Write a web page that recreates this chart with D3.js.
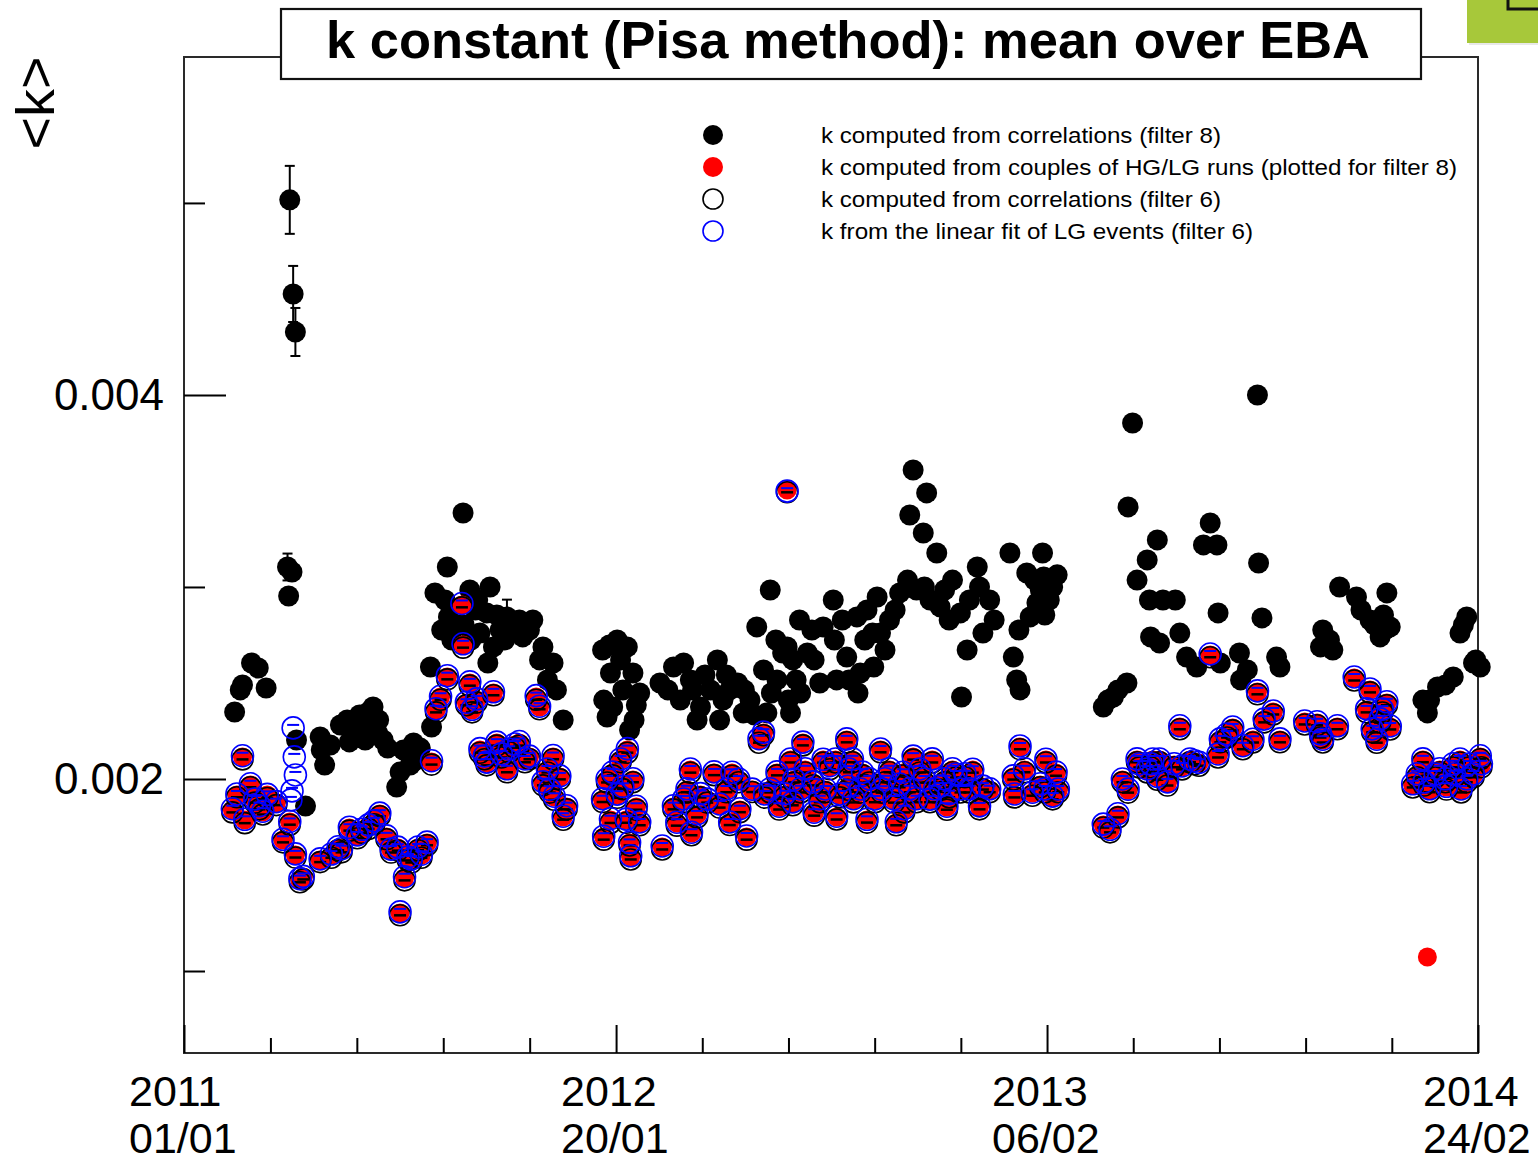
<!DOCTYPE html>
<html>
<head>
<meta charset="utf-8">
<script src="https://cdn.jsdelivr.net/npm/d3@7"></script>
<style>
  body { margin: 0; background: #fff; }
  svg { display: block; }
  text { font-family: "Liberation Sans", Arial, Helvetica, sans-serif; fill: #000; }
</style>
</head>
<body>
<script>
// ---- axis definition -------------------------------------------------------
const axisDates = ["2011-01-01", "2012-01-20", "2013-02-06", "2014-02-24"];
const kRange = [0.000573, 0.00576];
const yMajor = [0.002, 0.004];
const yMinor = [0.001, 0.003, 0.005];

// ---- k from correlations, filter 8: [date, k, error?] ----------------------
const corrF8_2011 = [
  ["2011-02-15",0.002349],["2011-02-20",0.002464],["2011-02-22",0.002490],
  ["2011-03-02",0.002604],["2011-03-08",0.002578],["2011-03-15",0.002474],
  ["2011-04-03",0.003104,0.00007],["2011-04-04",0.002953],["2011-04-05",0.005016,0.000177],
  ["2011-04-07",0.003078],["2011-04-08",0.004526,0.000146],["2011-04-10",0.004328,0.000125],
  ["2011-04-11",0.002203],["2011-04-19",0.001859],["2011-05-02",0.002219],
  ["2011-05-03",0.002151],["2011-05-06",0.002073],["2011-05-11",0.002177],
  ["2011-05-20",0.002281],["2011-05-26",0.002307],["2011-05-28",0.002193],
  ["2011-06-02",0.002245],["2011-06-06",0.002333],["2011-06-11",0.002203],
  ["2011-06-14",0.002349],["2011-06-17",0.002281],["2011-06-18",0.002375],
  ["2011-06-22",0.002240],["2011-06-23",0.002307],["2011-06-27",0.002203],
  ["2011-07-01",0.002161],["2011-07-09",0.001958],["2011-07-12",0.002036],
  ["2011-07-15",0.002151],["2011-07-21",0.002073],["2011-07-24",0.002188],
  ["2011-07-25",0.002094],["2011-07-30",0.002161],["2011-08-08",0.002583],
  ["2011-08-09",0.002271],["2011-08-12",0.002969],["2011-08-18",0.002776],
  ["2011-08-21",0.002932],["2011-08-23",0.003104],["2011-08-24",0.002844],
  ["2011-08-27",0.002724],["2011-09-02",0.002802],["2011-09-06",0.003385],
  ["2011-09-07",0.002802],["2011-09-12",0.002984],["2011-09-13",0.002724],
  ["2011-09-17",0.002880],["2011-09-19",0.002932],["2011-09-21",0.002760],
  ["2011-09-27",0.002865],["2011-09-28",0.002604],["2011-09-30",0.003000],
  ["2011-10-03",0.002688],["2011-10-06",0.002854],["2011-10-09",0.002776],
  ["2011-10-13",0.002724],["2011-10-15",0.002844,0.00009],["2011-10-22",0.002802],
  ["2011-10-26",0.002828],["2011-10-29",0.002740],["2011-11-04",0.002776],
  ["2011-11-07",0.002828],["2011-11-13",0.002620],["2011-11-16",0.002688],
  ["2011-11-20",0.002516],["2011-11-25",0.002604],["2011-11-28",0.002464],
  ["2011-12-04",0.002307]
];
const corrF8_2012 = [
  ["2012-01-08",0.002672],["2012-01-09",0.002411],["2012-01-12",0.002323],
  ["2012-01-14",0.002698],["2012-01-15",0.002552],["2012-01-17",0.002375],
  ["2012-01-21",0.002724],["2012-01-24",0.002620],["2012-01-26",0.002464],
  ["2012-01-30",0.002688],["2012-02-01",0.002255],["2012-02-04",0.002552],
  ["2012-02-05",0.002307],["2012-02-07",0.002385],["2012-02-10",0.002448],
  ["2012-02-28",0.002500],["2012-03-06",0.002464],["2012-03-11",0.002583],
  ["2012-03-17",0.002411],["2012-03-20",0.002604],["2012-03-26",0.002516],
  ["2012-03-28",0.002464],["2012-04-01",0.002307],["2012-04-04",0.002375],
  ["2012-04-08",0.002542],["2012-04-13",0.002464],["2012-04-19",0.002620],
  ["2012-04-21",0.002307],["2012-04-24",0.002411],["2012-04-27",0.002542],
  ["2012-04-30",0.002464],["2012-05-07",0.002500],["2012-05-12",0.002344],
  ["2012-05-13",0.002464],["2012-05-18",0.002411],["2012-05-22",0.002333],
  ["2012-05-24",0.002792],["2012-05-30",0.002568],["2012-06-02",0.002344],
  ["2012-06-05",0.002984],["2012-06-06",0.002448],["2012-06-10",0.002724],
  ["2012-06-11",0.002516],["2012-06-16",0.002656],["2012-06-20",0.002688],
  ["2012-06-21",0.002411],["2012-06-23",0.002344],["2012-06-25",0.002620],
  ["2012-06-28",0.002516],["2012-07-01",0.002828],["2012-07-02",0.002448],
  ["2012-07-08",0.002656],["2012-07-12",0.002776],["2012-07-14",0.002620],
  ["2012-07-19",0.002500],["2012-07-22",0.002792],["2012-07-31",0.002932],
  ["2012-08-01",0.002724],["2012-08-03",0.002516],["2012-08-08",0.002828],
  ["2012-08-12",0.002635],["2012-08-14",0.002516],["2012-08-21",0.002844],
  ["2012-08-22",0.002448],["2012-08-24",0.002552],["2012-08-28",0.002724],
  ["2012-08-30",0.002880],["2012-09-04",0.002760],["2012-09-05",0.002583],
  ["2012-09-08",0.002948],["2012-09-11",0.002760],["2012-09-15",0.002672],
  ["2012-09-19",0.002828],["2012-09-24",0.002880],["2012-09-28",0.002969],
  ["2012-10-05",0.003036],["2012-10-07",0.003375],["2012-10-10",0.003609],
  ["2012-10-13",0.002984],["2012-10-19",0.003281],["2012-10-20",0.003000],
  ["2012-10-22",0.003490],["2012-10-25",0.002932],["2012-10-31",0.003177],
  ["2012-11-03",0.002896],["2012-11-07",0.002984],["2012-11-11",0.002828],
  ["2012-11-14",0.003036],["2012-11-21",0.002865],["2012-11-22",0.002427],
  ["2012-11-27",0.002672],["2012-11-29",0.002932],["2012-12-06",0.003104],
  ["2012-12-08",0.003000],["2012-12-11",0.002760],["2012-12-17",0.002932],
  ["2012-12-21",0.002828]
];
const corrF8_2013 = [
  ["2013-01-04",0.003177],["2013-01-07",0.002635],["2013-01-10",0.002516],
  ["2013-01-12",0.002776],["2013-01-13",0.002464],["2013-01-19",0.003073],
  ["2013-01-22",0.002844],["2013-01-26",0.003036],["2013-01-28",0.002917],
  ["2013-01-31",0.002984],["2013-02-02",0.003177],["2013-02-03",0.003052],
  ["2013-02-04",0.002854],["2013-02-07",0.003036],["2013-02-08",0.002932],
  ["2013-02-11",0.003000],["2013-02-15",0.003063],["2013-03-28",0.002375],
  ["2013-04-01",0.002411],["2013-04-06",0.002427],["2013-04-10",0.002464],
  ["2013-04-18",0.002500],["2013-04-19",0.003417],["2013-04-23",0.003854],
  ["2013-04-27",0.003036],["2013-05-06",0.003141],["2013-05-08",0.002932],
  ["2013-05-09",0.002740],["2013-05-15",0.003245],["2013-05-17",0.002708],
  ["2013-05-20",0.002932],["2013-05-31",0.002932],["2013-06-04",0.002760],
  ["2013-06-10",0.002635],["2013-06-19",0.002583],["2013-06-25",0.003219],
  ["2013-07-01",0.003333],["2013-07-07",0.003219],["2013-07-08",0.002865],
  ["2013-07-10",0.002604],["2013-07-27",0.002656],["2013-07-28",0.002516],
  ["2013-08-03",0.002568],["2013-08-12",0.004000],["2013-08-13",0.003125],
  ["2013-08-16",0.002839],["2013-08-29",0.002635],["2013-09-01",0.002583],
  ["2013-10-07",0.002688],["2013-10-09",0.002776],["2013-10-15",0.002724],
  ["2013-10-18",0.002672],["2013-10-24",0.003000],["2013-11-08",0.002948],
  ["2013-11-12",0.002880],["2013-11-20",0.002828],["2013-11-24",0.002802],
  ["2013-11-29",0.002740],["2013-12-02",0.002854],["2013-12-03",0.002776],
  ["2013-12-05",0.002969],["2013-12-08",0.002792]
];
const corrF8_2014 = [
  ["2014-01-06",0.002411],["2014-01-10",0.002344],["2014-01-12",0.002411],
  ["2014-01-19",0.002479],["2014-01-26",0.002490],["2014-02-02",0.002531],
  ["2014-02-08",0.002760],["2014-02-11",0.002802],["2014-02-14",0.002844],
  ["2014-02-20",0.002604],["2014-02-22",0.002620],["2014-02-26",0.002583]
];

// ---- runs: [date, k from HG/LG couples, k from correlations f6, k from LG linear fit f6]
const runs2011 = [
  ["2011-02-13",0.001839,0.001826,0.001845],["2011-02-17",0.001917,0.001905,0.001922],
  ["2011-02-22",0.002115,0.002102,0.002121],["2011-02-24",0.001786,0.001770,0.001790],
  ["2011-03-01",0.001969,0.001957,0.001975],["2011-03-05",0.001891,0.001877,0.001896],
  ["2011-03-09",0.001854,0.001842,0.001861],["2011-03-12",0.001828,0.001815,0.001832],
  ["2011-03-16",0.001917,0.001901,0.001920],["2011-03-24",0.001875,0.001864,0.001882],
  ["2011-03-30",0.001682,0.001670,0.001686],["2011-04-05",0.001776,0.001762,0.001779],
  ["2011-04-10",0.001604,0.001591,0.001610],["2011-04-14",0.001474,0.001462,0.001481],
  ["2011-04-17",0.001490,0.001477,0.001493],["2011-05-02",0.001578,0.001567,0.001584],
  ["2011-05-12",0.001604,0.001590,0.001609],["2011-05-18",0.001641,0.001629,0.001647],
  ["2011-05-21",0.001630,0.001618,0.001637],["2011-05-28",0.001745,0.001731,0.001749],
  ["2011-06-04",0.001703,0.001691,0.001709],["2011-06-08",0.001734,0.001720,0.001738],
  ["2011-06-14",0.001755,0.001740,0.001761],["2011-06-19",0.001776,0.001764,0.001782],
  ["2011-06-24",0.001818,0.001806,0.001822],["2011-06-30",0.001698,0.001686,0.001704],
  ["2011-07-04",0.001630,0.001617,0.001635],["2011-07-10",0.001641,0.001627,0.001645],
  ["2011-07-12",0.001302,0.001290,0.001308],["2011-07-16",0.001484,0.001472,0.001491],
  ["2011-07-19",0.001589,0.001576,0.001594],["2011-07-22",0.001578,0.001565,0.001583],
  ["2011-07-28",0.001641,0.001629,0.001646],["2011-07-31",0.001604,0.001590,0.001608],
  ["2011-08-05",0.001667,0.001655,0.001671],["2011-08-09",0.002089,0.002075,0.002095],
  ["2011-08-13",0.002359,0.002347,0.002366],["2011-08-17",0.002427,0.002413,0.002431],
  ["2011-08-23",0.002531,0.002519,0.002538],["2011-09-05",0.002906,0.002894,0.002914],
  ["2011-09-06",0.002698,0.002684,0.002704],["2011-09-09",0.002396,0.002384,0.002400],
  ["2011-09-12",0.002500,0.002486,0.002506],["2011-09-14",0.002359,0.002347,0.002363],
  ["2011-09-18",0.002411,0.002398,0.002417],["2011-09-21",0.002151,0.002137,0.002158],
  ["2011-09-25",0.002115,0.002103,0.002120],["2011-09-27",0.002083,0.002071,0.002088],
  ["2011-10-03",0.002448,0.002436,0.002454],["2011-10-06",0.002188,0.002174,0.002192],
  ["2011-10-10",0.002125,0.002112,0.002131],["2011-10-15",0.002047,0.002035,0.002053],
  ["2011-10-17",0.002151,0.002139,0.002155],["2011-10-22",0.002177,0.002163,0.002182],
  ["2011-10-26",0.002188,0.002174,0.002195],["2011-10-31",0.002099,0.002087,0.002104],
  ["2011-11-04",0.002115,0.002103,0.002119],["2011-11-10",0.002427,0.002413,0.002434],
  ["2011-11-13",0.002375,0.002363,0.002379],["2011-11-16",0.001979,0.001967,0.001986],
  ["2011-11-20",0.002047,0.002034,0.002052],["2011-11-22",0.001943,0.001929,0.001947],
  ["2011-11-25",0.002115,0.002103,0.002122],["2011-11-26",0.001906,0.001892,0.001910],
  ["2011-12-01",0.002010,0.001998,0.002016],["2011-12-04",0.001802,0.001788,0.001806],
  ["2011-12-07",0.001854,0.001842,0.001861]
];
const runs2012 = [
  ["2012-01-08",0.001891,0.001880,0.001897],["2012-01-09",0.001698,0.001684,0.001702],
  ["2012-01-12",0.001995,0.001982,0.002001],["2012-01-15",0.001786,0.001771,0.001793],
  ["2012-01-17",0.002031,0.002019,0.002036],["2012-01-21",0.001917,0.001902,0.001921],
  ["2012-01-24",0.002099,0.002087,0.002104],["2012-01-26",0.001958,0.001947,0.001962],
  ["2012-01-29",0.001786,0.001772,0.001791],["2012-01-30",0.002151,0.002137,0.002158],
  ["2012-02-01",0.001667,0.001654,0.001670],["2012-02-02",0.001594,0.001581,0.001600],
  ["2012-02-04",0.001995,0.001983,0.002001],["2012-02-07",0.001854,0.001840,0.001858],
  ["2012-02-10",0.001771,0.001759,0.001776],["2012-03-01",0.001646,0.001633,0.001651],
  ["2012-03-11",0.001854,0.001842,0.001861],["2012-03-14",0.001771,0.001757,0.001775],
  ["2012-03-20",0.001891,0.001878,0.001896],["2012-03-23",0.001943,0.001931,0.001949],
  ["2012-03-26",0.002047,0.002033,0.002052],["2012-03-27",0.001719,0.001707,0.001723],
  ["2012-04-01",0.001813,0.001800,0.001818],["2012-04-04",0.001917,0.001904,0.001924],
  ["2012-04-10",0.001891,0.001877,0.001895],["2012-04-16",0.002031,0.002020,0.002037],
  ["2012-04-21",0.001865,0.001851,0.001870],["2012-04-27",0.001943,0.001931,0.001948],
  ["2012-04-30",0.001771,0.001760,0.001776],["2012-05-02",0.002031,0.002017,0.002035],
  ["2012-05-08",0.001995,0.001983,0.002000],["2012-05-09",0.001839,0.001827,0.001845],
  ["2012-05-15",0.001698,0.001684,0.001703],["2012-05-20",0.001943,0.001932,0.001947],
  ["2012-05-26",0.002203,0.002189,0.002210],["2012-05-30",0.002240,0.002228,0.002244],
  ["2012-05-31",0.001917,0.001903,0.001922],["2012-06-05",0.001943,0.001930,0.001949],
  ["2012-06-11",0.002031,0.002019,0.002037],["2012-06-13",0.001854,0.001841,0.001858],
  ["2012-06-18",0.001917,0.001905,0.001923],["2012-06-20",0.003505,0.003493,0.003499],
  ["2012-06-23",0.002099,0.002086,0.002104],["2012-06-25",0.001875,0.001863,0.001881],
  ["2012-06-26",0.001995,0.001982,0.001999],["2012-07-02",0.001943,0.001930,0.001949],
  ["2012-07-04",0.002188,0.002175,0.002192],["2012-07-06",0.002047,0.002034,0.002053],
  ["2012-07-13",0.001979,0.001967,0.001985],["2012-07-14",0.001823,0.001809,0.001827],
  ["2012-07-19",0.001891,0.001879,0.001897],["2012-07-22",0.002099,0.002085,0.002103],
  ["2012-07-24",0.001943,0.001931,0.001948],["2012-07-28",0.002063,0.002051,0.002069],
  ["2012-08-02",0.002099,0.002086,0.002104],["2012-08-03",0.001802,0.001789,0.001806],
  ["2012-08-06",0.001917,0.001904,0.001922],["2012-08-12",0.002203,0.002191,0.002209],
  ["2012-08-13",0.001958,0.001944,0.001962],["2012-08-14",0.002047,0.002035,0.002052],
  ["2012-08-17",0.002099,0.002087,0.002105],["2012-08-18",0.001891,0.001878,0.001897],
  ["2012-08-24",0.001943,0.001929,0.001948],["2012-08-26",0.002031,0.002019,0.002036],
  ["2012-08-30",0.001786,0.001773,0.001790],["2012-09-01",0.001995,0.001982,0.002001],
  ["2012-09-06",0.001891,0.001879,0.001896],["2012-09-11",0.002151,0.002139,0.002156],
  ["2012-09-12",0.001943,0.001929,0.001947],["2012-09-15",0.001995,0.001983,0.002001],
  ["2012-09-19",0.002047,0.002035,0.002053],["2012-09-23",0.001891,0.001877,0.001896],
  ["2012-09-25",0.001771,0.001759,0.001777],["2012-09-28",0.001969,0.001957,0.001974],
  ["2012-10-01",0.002031,0.002018,0.002035],["2012-10-02",0.001839,0.001826,0.001845],
  ["2012-10-07",0.001943,0.001931,0.001949],["2012-10-10",0.002115,0.002101,0.002119],
  ["2012-10-13",0.001891,0.001879,0.001897],["2012-10-16",0.002047,0.002034,0.002052],
  ["2012-10-20",0.001995,0.001981,0.002000],["2012-10-25",0.001891,0.001879,0.001895],
  ["2012-10-27",0.002099,0.002086,0.002105],["2012-10-29",0.001943,0.001931,0.001949],
  ["2012-11-03",0.001958,0.001945,0.001963],["2012-11-07",0.001995,0.001983,0.002001],
  ["2012-11-09",0.001854,0.001840,0.001858],["2012-11-11",0.001917,0.001905,0.001923],
  ["2012-11-14",0.002047,0.002035,0.002053],["2012-11-17",0.002021,0.002008,0.002026],
  ["2012-11-21",0.001943,0.001930,0.001948],["2012-11-25",0.002021,0.002009,0.002027],
  ["2012-11-29",0.001943,0.001930,0.001949],["2012-12-02",0.002047,0.002033,0.002051],
  ["2012-12-08",0.001854,0.001842,0.001860],["2012-12-11",0.001958,0.001945,0.001963],
  ["2012-12-17",0.001943,0.001931,0.001949]
];
const runs2013 = [
  ["2013-01-07",0.002010,0.001997,0.002016],["2013-01-08",0.001917,0.001904,0.001922],
  ["2013-01-13",0.002167,0.002155,0.002172],["2013-01-17",0.002047,0.002035,0.002053],
  ["2013-01-24",0.001927,0.001913,0.001931],["2013-01-31",0.001969,0.001957,0.001975],
  ["2013-02-04",0.001943,0.001930,0.001948],["2013-02-05",0.002099,0.002086,0.002103],
  ["2013-02-11",0.001906,0.001894,0.001911],["2013-02-14",0.002031,0.002017,0.002036],
  ["2013-02-16",0.001943,0.001931,0.001948],["2013-03-28",0.001760,0.001747,0.001765],
  ["2013-04-03",0.001734,0.001722,0.001738],["2013-04-10",0.001813,0.001800,0.001819],
  ["2013-04-14",0.001995,0.001983,0.002000],["2013-04-19",0.001943,0.001929,0.001947],
  ["2013-04-27",0.002099,0.002087,0.002105],["2013-04-29",0.002073,0.002060,0.002078],
  ["2013-05-06",0.002047,0.002034,0.002052],["2013-05-09",0.002073,0.002061,0.002079],
  ["2013-05-11",0.002099,0.002086,0.002104],["2013-05-15",0.002010,0.001996,0.002014],
  ["2013-05-17",0.002099,0.002087,0.002104],["2013-05-24",0.001979,0.001966,0.001985],
  ["2013-05-30",0.002073,0.002061,0.002079],["2013-06-04",0.002271,0.002259,0.002277],
  ["2013-06-06",0.002063,0.002050,0.002068],["2013-06-13",0.002099,0.002087,0.002104],
  ["2013-06-17",0.002089,0.002077,0.002095],["2013-06-21",0.002083,0.002069,0.002087],
  ["2013-07-01",0.002646,0.002634,0.002651],["2013-07-08",0.002125,0.002112,0.002130],
  ["2013-07-10",0.002203,0.002191,0.002209],["2013-07-16",0.002229,0.002216,0.002234],
  ["2013-07-21",0.002266,0.002253,0.002271],["2013-07-30",0.002167,0.002155,0.002173],
  ["2013-08-08",0.002203,0.002190,0.002207],["2013-08-12",0.002453,0.002441,0.002459],
  ["2013-08-18",0.002307,0.002295,0.002312],["2013-08-26",0.002349,0.002336,0.002354],
  ["2013-09-01",0.002203,0.002191,0.002209],["2013-09-23",0.002297,0.002284,0.002302],
  ["2013-10-04",0.002292,0.002280,0.002298],["2013-10-07",0.002229,0.002216,0.002235],
  ["2013-10-09",0.002203,0.002190,0.002207],["2013-10-22",0.002271,0.002259,0.002277],
  ["2013-11-06",0.002526,0.002513,0.002531],["2013-11-17",0.002359,0.002347,0.002365],
  ["2013-11-20",0.002464,0.002451,0.002469],["2013-11-22",0.002255,0.002243,0.002261],
  ["2013-11-26",0.002203,0.002189,0.002207],["2013-11-29",0.002307,0.002294,0.002313],
  ["2013-12-01",0.002359,0.002346,0.002364],["2013-12-05",0.002396,0.002384,0.002402],
  ["2013-12-08",0.002271,0.002258,0.002276],["2013-12-28",0.001969,0.001956,0.001975]
];
const runs2014 = [
  ["2014-01-01",0.002021,0.002009,0.002027],
  ["2014-01-06",0.002099,0.002087,0.002105],["2014-01-07",0.001979,0.001966,0.001984],
  ["2014-01-10",0.001073,null,null],["2014-01-12",0.001943,0.001931,0.001949],
  ["2014-01-17",0.002021,0.002008,0.002026],["2014-01-21",0.002047,0.002035,0.002053],
  ["2014-01-26",0.001995,0.001983,0.002001],["2014-01-27",0.001958,0.001945,0.001962],
  ["2014-02-02",0.002073,0.002060,0.002079],["2014-02-03",0.002021,0.002009,0.002027],
  ["2014-02-08",0.002099,0.002086,0.002104],["2014-02-09",0.001943,0.001930,0.001948],
  ["2014-02-14",0.001995,0.001983,0.002001],["2014-02-16",0.002073,0.002060,0.002078],
  ["2014-02-20",0.002021,0.002009,0.002026],["2014-02-26",0.002115,0.002103,0.002121],
  ["2014-02-27",0.002073,0.002061,0.002079]
];
// runs with the LG linear fit only
const linFitOnly = [
  ["2011-04-06",0.001891],["2011-04-07",0.001938],["2011-04-08",0.002266],
  ["2011-04-09",0.002115],["2011-04-10",0.002021]
];

const legendLabels = [
  "k computed from correlations (filter 8)",
  "k computed from couples of HG/LG runs (plotted for filter 8)",
  "k computed from correlations (filter 6)",
  "k from the linear fit of LG events (filter 6)"
];
const titleText = "k constant (Pisa method): mean over EBA";
const yTitle = "<k>";

// ---- layout ----------------------------------------------------------------
const W = 1538, H = 1163;
const L = 184, R = 1478, T = 57, B = 1053;
const FONT = '"Liberation Sans", Arial, Helvetica, sans-serif';

const parseDay = d3.utcParse("%Y-%m-%d");
const majorDates = axisDates.map(parseDay);
const x = d3.scaleUtc().domain([majorDates[0], majorDates[majorDates.length - 1]]).range([L, R]);
const y = d3.scaleLinear().domain(kRange).range([B, T]);

// four minor divisions between consecutive labelled dates
const minorDates = [];
for (let i = 0; i < majorDates.length - 1; i++) {
  const a = +majorDates[i], b = +majorDates[i + 1];
  for (let j = 1; j < 5; j++) minorDates.push(new Date(a + (b - a) * j / 5));
}

const svg = d3.select("body").append("svg").attr("width", W).attr("height", H);
svg.append("rect").attr("width", W).attr("height", H).attr("fill", "#fff");

// plot frame
svg.append("rect")
  .attr("x", L).attr("y", T).attr("width", R - L).attr("height", B - T)
  .attr("fill", "none").attr("stroke", "#2a2a2a").attr("stroke-width", 2);

function styleAxis(g, fontSize) {
  g.select(".domain").remove();
  g.selectAll(".tick line").attr("stroke", "#000").attr("stroke-width", 2);
  g.selectAll(".tick text").attr("font-family", FONT).attr("font-size", fontSize).attr("fill", "#000");
}

// y axis: long ticks with labels, short ticks between
svg.append("g").attr("transform", `translate(${L},0)`)
  .call(d3.axisLeft(y).tickValues(yMajor).tickSize(-42).tickPadding(20).tickFormat(d3.format(".3f")))
  .call(g => styleAxis(g, 44));
svg.append("g").attr("transform", `translate(${L},0)`)
  .call(d3.axisLeft(y).tickValues(yMinor).tickSize(-21).tickFormat(""))
  .call(g => styleAxis(g, 44));

// x axis ticks
svg.append("g").attr("transform", `translate(0,${B})`)
  .call(d3.axisBottom(x).tickValues(majorDates).tickSize(-28).tickFormat(""))
  .call(g => styleAxis(g, 44));
svg.append("g").attr("transform", `translate(0,${B})`)
  .call(d3.axisBottom(x).tickValues(minorDates).tickSize(-15).tickFormat(""))
  .call(g => styleAxis(g, 44));

// two-line time labels
const fmtYear = d3.utcFormat("%Y"), fmtDay = d3.utcFormat("%d/%m");
const xl = svg.append("g").attr("font-family", FONT).attr("font-size", 43);
majorDates.forEach(d => {
  xl.append("text").attr("x", x(d) - 55).attr("y", 1106).text(fmtYear(d));
  xl.append("text").attr("x", x(d) - 55).attr("y", 1153).text(fmtDay(d));
});

// y title
svg.append("text")
  .attr("transform", "translate(54,103) rotate(-90)")
  .attr("text-anchor", "middle").attr("font-family", FONT).attr("font-size", 54)
  .attr("textLength", 93).attr("lengthAdjust", "spacingAndGlyphs")
  .text(yTitle);

// ---- data ------------------------------------------------------------------
const corrF8 = [...corrF8_2011, ...corrF8_2012, ...corrF8_2013, ...corrF8_2014]
  .map(d => ({ t: parseDay(d[0]), k: d[1], e: d[2] }));
const runs = [...runs2011, ...runs2012, ...runs2013, ...runs2014]
  .map(d => ({ t: parseDay(d[0]), couples: d[1], corr6: d[2], lin: d[3] }));
const linPts = runs.filter(d => d.lin != null).map(d => ({ t: d.t, k: d.lin }))
  .concat(linFitOnly.map(d => ({ t: parseDay(d[0]), k: d[1] })));
const corr6Pts = runs.filter(d => d.corr6 != null).map(d => ({ t: d.t, k: d.corr6 }));

// filter 8 correlations: error bars then filled black markers
const eb = svg.append("g").attr("stroke", "#000").attr("stroke-width", 2);
corrF8.filter(d => d.e).forEach(d => {
  const cx = x(d.t), y0 = y(d.k - d.e), y1 = y(d.k + d.e);
  eb.append("line").attr("x1", cx).attr("x2", cx).attr("y1", y0).attr("y2", y1);
  eb.append("line").attr("x1", cx - 5).attr("x2", cx + 5).attr("y1", y0).attr("y2", y0);
  eb.append("line").attr("x1", cx - 5).attr("x2", cx + 5).attr("y1", y1).attr("y2", y1);
});
svg.append("g").selectAll("circle").data(corrF8).join("circle")
  .attr("cx", d => x(d.t)).attr("cy", d => y(d.k)).attr("r", 10.5).attr("fill", "#000");

// HG/LG couples: filled red markers
svg.append("g").selectAll("circle").data(runs).join("circle")
  .attr("cx", d => x(d.t)).attr("cy", d => y(d.couples)).attr("r", 9.5).attr("fill", "#ff0000");

// filter 6 correlations: open black markers with horizontal bars
svg.append("g").selectAll("line").data(corr6Pts).join("line")
  .attr("x1", d => x(d.t) - 6).attr("x2", d => x(d.t) + 6)
  .attr("y1", d => y(d.k)).attr("y2", d => y(d.k))
  .attr("stroke", "#000").attr("stroke-width", 2.5);
svg.append("g").selectAll("circle").data(corr6Pts).join("circle")
  .attr("cx", d => x(d.t)).attr("cy", d => y(d.k)).attr("r", 10.5)
  .attr("fill", "none").attr("stroke", "#000").attr("stroke-width", 1.6);

// LG linear fit: open blue markers with horizontal bars
svg.append("g").selectAll("line").data(linPts).join("line")
  .attr("x1", d => x(d.t) - 6).attr("x2", d => x(d.t) + 6)
  .attr("y1", d => y(d.k) - 3).attr("y2", d => y(d.k) - 3)
  .attr("stroke", "#0000ff").attr("stroke-width", 2);
svg.append("g").selectAll("circle").data(linPts).join("circle")
  .attr("cx", d => x(d.t)).attr("cy", d => y(d.k)).attr("r", 11)
  .attr("fill", "none").attr("stroke", "#0000ff").attr("stroke-width", 1.6);

// ---- legend ----------------------------------------------------------------
const legY = [135, 167, 199, 231];
const legW = [400, 636, 400, 432];
const lg = svg.append("g");
lg.append("circle").attr("cx", 713).attr("cy", legY[0]).attr("r", 10).attr("fill", "#000");
lg.append("circle").attr("cx", 713).attr("cy", legY[1]).attr("r", 10).attr("fill", "#ff0000");
lg.append("circle").attr("cx", 713).attr("cy", legY[2]).attr("r", 10)
  .attr("fill", "none").attr("stroke", "#000").attr("stroke-width", 1.6);
lg.append("circle").attr("cx", 713).attr("cy", legY[3]).attr("r", 10)
  .attr("fill", "none").attr("stroke", "#0000ff").attr("stroke-width", 1.6);
legendLabels.forEach((s, i) => {
  lg.append("text").attr("x", 821).attr("y", legY[i] + 8)
    .attr("font-family", FONT).attr("font-size", 21.5)
    .attr("textLength", legW[i]).attr("lengthAdjust", "spacingAndGlyphs")
    .text(s);
});

// ---- title box -------------------------------------------------------------
svg.append("rect").attr("x", 281).attr("y", 9).attr("width", 1140).attr("height", 70)
  .attr("fill", "#fff").attr("stroke", "#111").attr("stroke-width", 2.2);
svg.append("text").attr("x", 326).attr("y", 58)
  .attr("font-family", FONT).attr("font-size", 52).attr("font-weight", "bold")
  .attr("textLength", 1044).attr("lengthAdjust", "spacingAndGlyphs")
  .text(titleText);

// ---- corner tab ------------------------------------------------------------
svg.append("rect").attr("x", 1469).attr("y", 2).attr("width", 80).attr("height", 43)
  .attr("fill", "#d8d8d8").attr("opacity", 0.6);
svg.append("rect").attr("x", 1467).attr("y", 0).attr("width", 80).attr("height", 43)
  .attr("fill", "#a7c83a");
svg.append("path").attr("d", "M1508,0 V9 H1540").attr("fill", "none")
  .attr("stroke", "#111").attr("stroke-width", 3);
</script>
</body>
</html>
